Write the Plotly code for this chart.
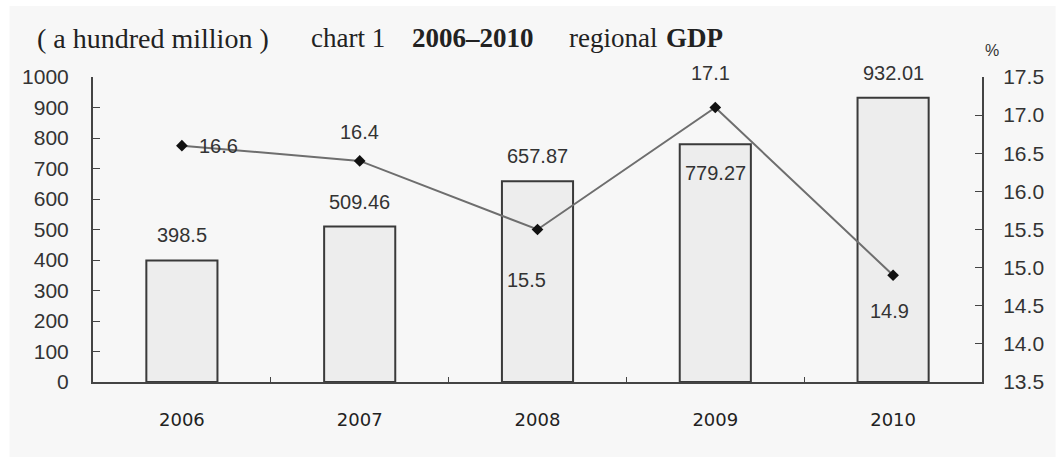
import plotly.graph_objects as go

years = ["2006", "2007", "2008", "2009", "2010"]
gdp = [398.5, 509.46, 657.87, 779.27, 932.01]
gdp_labels = ["398.5", "509.46", "657.87", "779.27", "932.01"]
growth = [16.6, 16.4, 15.5, 17.1, 14.9]
growth_labels = ["16.6", "16.4", "15.5", "17.1", "14.9"]

# label offsets (pixels) - styling only
gdp_label_yshift = [25, 25, 25, -29, 25]
growth_label_shift = [(37, 0), (0, 29), (-11, -50), (-5, 35), (-4, -36)]

W, H = 1056, 457
ML, MR, MT, MB = 93, 69, 77, 75
PW, PH = W - ML - MR, H - MT - MB

def px_x(x):
    return (x - ML) / PW

def px_y(y):
    return (H - MB - y) / PH

fig = go.Figure()

fig.add_trace(go.Bar(
    x=years, y=gdp, yaxis="y",
    marker=dict(color="#ededed", line=dict(color="#3a3a3a", width=2)),
    showlegend=False, hoverinfo="skip",
))

fig.add_trace(go.Scatter(
    x=years, y=growth, yaxis="y2", mode="lines+markers",
    line=dict(color="#6e6e6e", width=2),
    marker=dict(symbol="diamond", size=9, color="#111111"),
    showlegend=False, hoverinfo="skip",
))

annotations = []
label_font = dict(family="Liberation Sans, Arial, sans-serif", size=20, color="#333333")
for i, (v, t, ys) in enumerate(zip(gdp, gdp_labels, gdp_label_yshift)):
    annotations.append(dict(x=i, y=v, xref="x", yref="y", text=t, showarrow=False,
                            yshift=ys, font=label_font, xanchor="center", yanchor="middle"))
for i, (v, t, (xs, ys)) in enumerate(zip(growth, growth_labels, growth_label_shift)):
    annotations.append(dict(x=i, y=v, xref="x", yref="y2", text=t, showarrow=False,
                            xshift=xs, yshift=ys, font=label_font, xanchor="center", yanchor="middle"))

serif = "Liberation Serif, Times New Roman, serif"
title_parts = [
    ("( a hundred million )", 35, serif, 28),
    ("chart 1", 310, serif, 27),
    ("<b>2006–2010</b>", 412, serif, 27),
    ("regional", 570, serif, 27),
    ("<b>GDP</b>", 667, serif, 27),
]
for text, x0, fam, sz in title_parts:
    annotations.append(dict(x=px_x(x0), y=px_y(38), xref="paper", yref="paper",
                            text=text, showarrow=False, xanchor="left", yanchor="middle",
                            font=dict(family=fam, size=sz, color="#222222")))
annotations.append(dict(x=px_x(997), y=px_y(51), xref="paper", yref="paper", text="%",
                        showarrow=False, xanchor="center", yanchor="middle",
                        font=dict(family="Liberation Sans, Arial, sans-serif", size=16, color="#333333")))

shapes = [dict(type="rect", xref="paper", yref="paper", x0=px_x(9), x1=px_x(W + 5),
               y0=px_y(H + 5), y1=px_y(6), fillcolor="#f7f7f7", line=dict(width=0), layer="below")]

tick_font = dict(family="Liberation Sans, Arial, sans-serif", size=21, color="#333333")

fig.update_layout(
    width=W, height=H,
    margin=dict(l=ML, r=MR, t=MT, b=MB, pad=0),
    paper_bgcolor="white", plot_bgcolor="rgba(0,0,0,0)",
    bargap=0.6,
    xaxis=dict(type="category", range=[-0.5, 4.5], showgrid=False, showline=True,
               linecolor="#444444", linewidth=2,
               ticks="inside", ticklen=5, tickcolor="#444444", tickson="boundaries",
               tickfont=dict(family="DejaVu Sans, sans-serif", size=18, color="#222222"),
               tickangle=0, ticklabelstandoff=20, zeroline=False),
    yaxis=dict(range=[0, 1000], dtick=100, showgrid=False, showline=True, linecolor="#444444",
               linewidth=2, ticks="inside", ticklen=7, tickcolor="#444444", tickfont=tick_font,
               ticklabelstandoff=18, zeroline=False),
    yaxis2=dict(range=[13.5, 17.5], dtick=0.5, tickformat=".1f", overlaying="y", side="right",
                showgrid=False, showline=True, linecolor="#444444", linewidth=2, ticks="inside",
                ticklen=7, tickcolor="#444444", tickfont=tick_font, ticklabelstandoff=15,
                zeroline=False),
    annotations=annotations,
    shapes=shapes,
)

fig.write_html("out.html", config={"displayModeBar": False},
               post_script="document.body.style.margin='0px';document.body.style.overflow='hidden';")
